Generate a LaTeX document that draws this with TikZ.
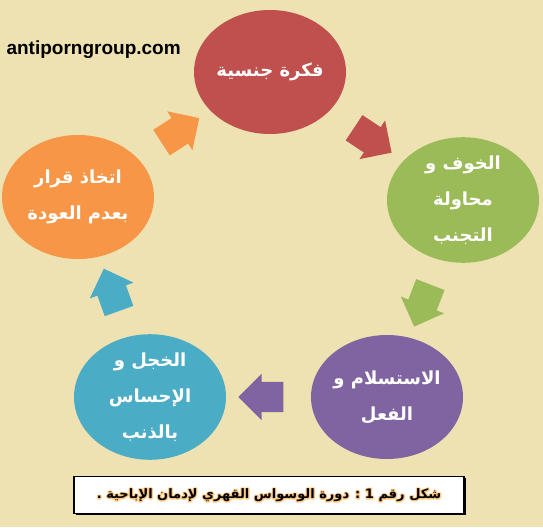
\documentclass[tikz,border=0pt]{standalone}
\usepackage{fontspec}
\setmainfont{Liberation Sans}
\newfontfamily\arabicfont[Script=Arabic]{DejaVu Sans}
\TeXXeTstate=1
\usetikzlibrary{shapes.geometric,shapes.arrows,calc,shadows}
\definecolor{bgbeige}{RGB}{238,226,178}
\definecolor{cred}{RGB}{192,80,77}
\definecolor{cgreen}{RGB}{155,187,89}
\definecolor{cpurple}{RGB}{128,100,162}
\definecolor{cblue}{RGB}{75,172,198}
\definecolor{corange}{RGB}{247,150,70}
\newcommand{\captext}{\beginR شكل رقم \beginL1\endL{} : دورة الوسواس القهري لإدمان الإباحية .\endR}
% orange halo behind the caption letters
\newcommand{\glowtext}[1]{\rlap{\special{pdf:literal 1 Tr 2.4 w 1 j 1 0.78 0.5 RG}#1\special{pdf:literal 0 Tr}}#1}

\begin{document}
\begin{tikzpicture}[x=1pt,y=-1pt,
	bubble/.style={ellipse, minimum width=152pt, minimum height=124pt, inner sep=0pt,
		text=white, align=center, font=\arabicfont\bfseries\fontsize{18}{36}\selectfont},
	flow/.style={single arrow, minimum height=45pt, inner xsep=0pt, inner ysep=15pt,
		single arrow head extend=8pt},
	captionfont/.style={font=\arabicfont\bfseries\fontsize{13}{16}\selectfont}]
		\fill[bgbeige] (0,0) rectangle (543,527);
		\useasboundingbox (0,0) rectangle (543,527);
		% the five stages
		\node[bubble, fill=cred] (idea) at (270,72) {\beginR فكرة جنسية\endR};
		\node[bubble, fill=cgreen] (fear) at (463,200) {\beginR الخوف و\endR\\\beginR محاولة\endR\\\beginR التجنب\endR};
		\node[bubble, fill=cpurple] (act) at (387,397) {\beginR الاستسلام و\endR\\\beginR الفعل\endR};
		\node[bubble, fill=cblue] (guilt) at (150,397) {\beginR الخجل و\endR\\\beginR الإحساس\endR\\\beginR بالذنب\endR};
		\node[bubble, fill=corange] (decide) at (78,197) {\beginR اتخاذ قرار\endR\\\beginR بعدم العودة\endR};
		% arrows between stages
		\foreach \a/\b/\c in {idea/fear/cred, fear/act/cgreen, act/guilt/cpurple, guilt/decide/cblue, decide/idea/corange}
		\path let \p1=($(\b)-(\a)$), \n1={atan2(\y1,\x1)} in
			node[flow, fill=\c, rotate=\n1] (arr-\a) at ($(\a)!0.5!(\b)$) {};
		\node[font=\bfseries\fontsize{19}{22}\selectfont, anchor=west] (site) at (3,50) {antiporngroup.com};
		% caption
		\node[draw, line width=1.5pt, fill=white, minimum width=390pt, minimum height=37pt,
			drop shadow={shadow xshift=1.5pt, shadow yshift=-1.5pt, fill=black, opacity=1}] (capbox) at (269,495) {};
		\node[captionfont] (caption) at (capbox.center) {\glowtext{\captext}};
	\end{tikzpicture}
\end{document}
